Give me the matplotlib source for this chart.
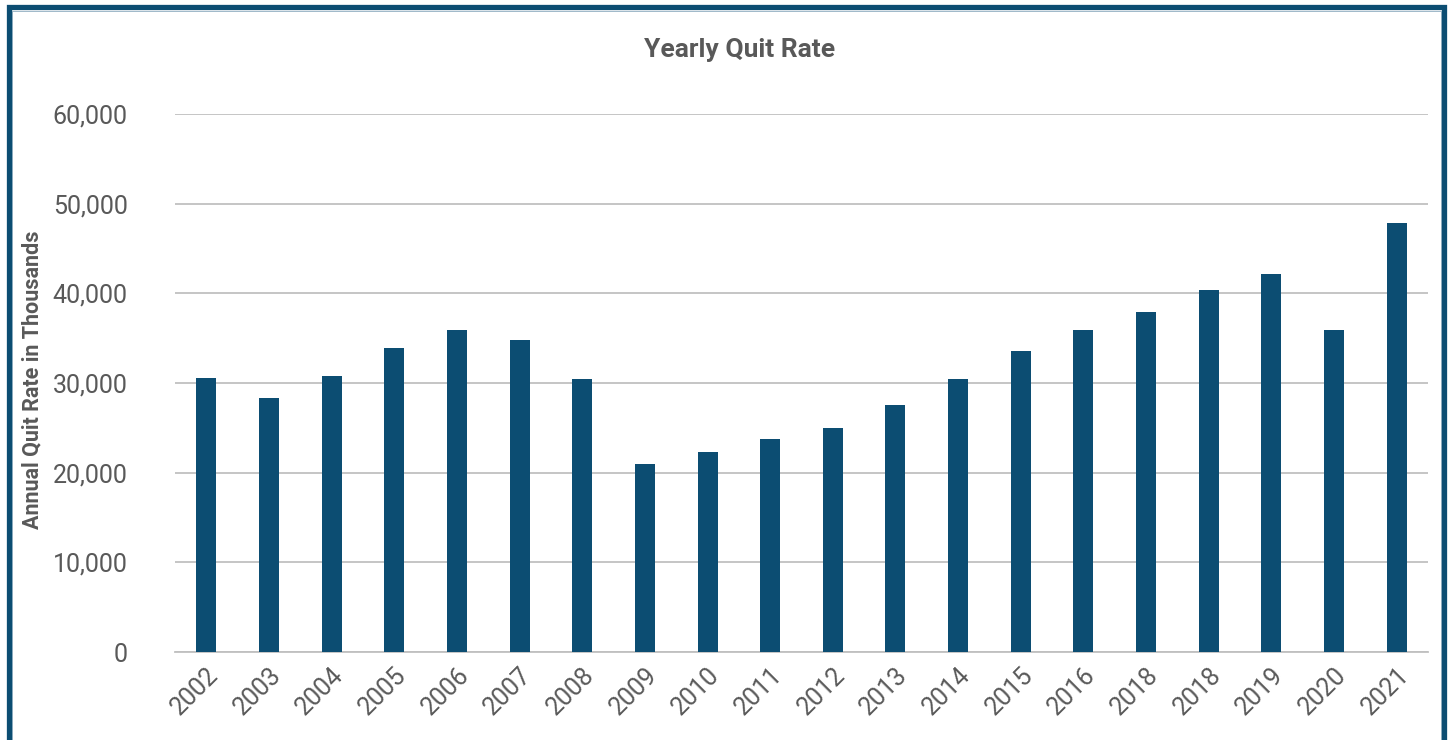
"""
Yearly quit rate bar chart
"""
import matplotlib.pyplot as plt
from matplotlib.patches import Rectangle
from matplotlib.ticker import FuncFormatter

years = ['2002', '2003', '2004', '2005', '2006', '2007', '2008', '2009', '2010', '2011',
         '2012', '2013', '2014', '2015', '2016', '2018', '2018', '2019', '2020', '2021']
quits = [30600, 28300, 30800, 33900, 35900, 34800, 30400, 21000, 22300, 23700,
         25000, 27500, 30400, 33600, 35900, 37900, 40400, 42200, 35900, 47800]
y_ticks = [0, 10000, 20000, 30000, 40000, 50000, 60000]

bar_color = '#0c4d72'
text_color = '#595959'
grid_color = '#c0c0c0'

plt.rcParams['font.family'] = ['Roboto', 'DejaVu Sans']

W, H, dpi = 1449, 740, 100
fig = plt.figure(figsize=(W / dpi, H / dpi), dpi=dpi)
fig.patch.set_facecolor('white')

# axes box in pixel coords: left 175, right 1428, bottom 652, top 114 (60k)
ax = fig.add_axes([175 / W, 1 - 652 / H, (1428 - 175) / W, (652 - 114) / H])
x = range(len(years))
ax.bar(x, quits, width=0.32, color=bar_color, zorder=3)

ax.set_xlim(-0.5, len(years) - 0.5)
ax.set_ylim(0, 60000)
ax.set_yticks(y_ticks)
ax.yaxis.set_major_formatter(FuncFormatter(lambda v, p: f'{int(v):,}'))
ax.set_xticks(list(x))
ax.set_xticklabels(years, rotation=45, ha='right', rotation_mode='anchor')

ax.grid(axis='y', color=grid_color, linewidth=1.3, zorder=0)
for s in ['top', 'right', 'left']:
    ax.spines[s].set_visible(False)
ax.spines['bottom'].set_color(grid_color)
ax.spines['bottom'].set_linewidth(1.3)
ax.tick_params(axis='both', length=0, colors=text_color, labelsize=18)
ax.tick_params(axis='y', pad=34)
ax.tick_params(axis='x', pad=8)

ax.set_ylabel('Annual Quit Rate in Thousands', fontsize=15.5, fontweight='bold',
              color=text_color)
ax.yaxis.set_label_coords(-0.105, 0.506)

fig.text(740 / W, 1 - 50 / H, 'Yearly Quit Rate', fontsize=19, fontweight='bold',
         color=text_color, ha='center', va='center')

# dark frame around the chart (bottom edge runs off the image)
frame = Rectangle((8.5 / W, -0.05), (1443.5 - 8.5) / W, 1.05 - 7.5 / H,
                  transform=fig.transFigure, fill=False, edgecolor=bar_color,
                  linewidth=3.8, zorder=10)
fig.patches.append(frame)
inner = Rectangle((11.5 / W, -0.05), (1440.5 - 11.5) / W, 1.05 - 10.5 / H,
                  transform=fig.transFigure, fill=False, edgecolor='#9fb8c9',
                  linewidth=0.7, zorder=9)
fig.patches.append(inner)

plt.savefig('out.png', dpi=dpi, facecolor='white')
plt.close()
